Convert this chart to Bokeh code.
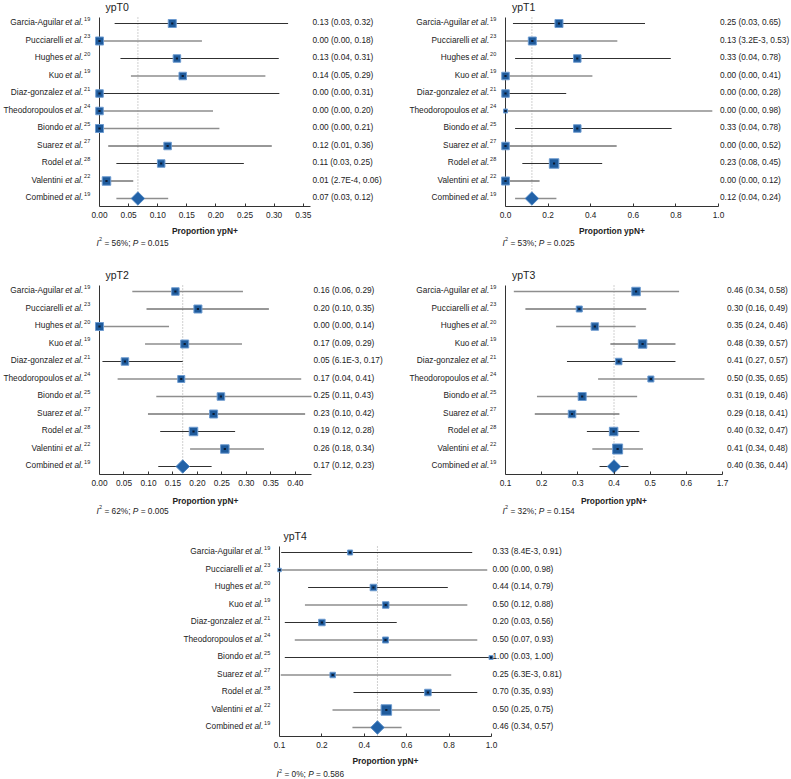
import math
from bokeh.plotting import figure
from bokeh.models import Range1d, FixedTicker, ColumnDataSource, Spacer, NumeralTickFormatter
from bokeh.layouts import row, column
from bokeh.core.properties import value
from bokeh.embed import file_html
from bokeh.resources import INLINE

FONT = "Liberation Sans"
TXT = "#222222"
FS = 8.3

STUDIES = ["Garcia-Aguilar", "Pucciarelli", "Hughes", "Kuo", "Diaz-gonzalez", "Theodoropoulos",
           "Biondo", "Suarez", "Rodel", "Valentini", "Combined"]
REFS = ["19", "23", "20", "19", "21", "24", "25", "27", "28", "22", "19"]

# ---------------- ypT0 ----------------
T0_EST = [0.125, 0.0, 0.133, 0.143, 0.0, 0.0, 0.0, 0.117, 0.106, 0.012, 0.066]
T0_LO = [0.026, 0.0, 0.036, 0.054, 0.0, 0.0, 0.0, 0.015, 0.029, 0.0003, 0.029]
T0_HI = [0.324, 0.176, 0.308, 0.285, 0.309, 0.195, 0.206, 0.296, 0.248, 0.058, 0.118]
T0_WT = [8, 8, 7.5, 7.5, 7.5, 7.5, 8, 7.5, 7.5, 8.5]
T0_LABELS = ["0.13 (0.03, 0.32)", "0.00 (0.00, 0.18)", "0.13 (0.04, 0.31)", "0.14 (0.05, 0.29)",
             "0.00 (0.00, 0.31)", "0.00 (0.00, 0.20)", "0.00 (0.00, 0.21)", "0.12 (0.01, 0.36)",
             "0.11 (0.03, 0.25)", "0.01 (2.7E-4, 0.06)", "0.07 (0.03, 0.12)"]
T0_I2, T0_P = "56%", "0.015"
T0_TICKS = [0.0, 0.05, 0.10, 0.15, 0.20, 0.25, 0.30, 0.35]

# ---------------- ypT1 ----------------
T1_EST = [0.251, 0.126, 0.337, 0.0, 0.0, 0.0, 0.337, 0.0, 0.228, 0.0, 0.124]
T1_LO = [0.035, 0.003, 0.045, 0.0, 0.0, 0.0, 0.045, 0.0, 0.079, 0.0, 0.045]
T1_HI = [0.655, 0.525, 0.776, 0.408, 0.285, 0.971, 0.780, 0.522, 0.454, 0.160, 0.239]
T1_WT = [8, 8, 7.5, 7.5, 7.5, 4, 7.5, 7.5, 9.5, 8]
T1_LABELS = ["0.25 (0.03, 0.65)", "0.13 (3.2E-3, 0.53)", "0.33 (0.04, 0.78)", "0.00 (0.00, 0.41)",
             "0.00 (0.00, 0.28)", "0.00 (0.00, 0.98)", "0.33 (0.04, 0.78)", "0.00 (0.00, 0.52)",
             "0.23 (0.08, 0.45)", "0.00 (0.00, 0.12)", "0.12 (0.04, 0.24)"]
T1_I2, T1_P = "53%", "0.025"
T1_TICKS = [0.0, 0.2, 0.4, 0.6, 0.8, 1.0]

# ---------------- ypT2 ----------------
T2_EST = [0.155, 0.201, 0.0, 0.174, 0.052, 0.167, 0.248, 0.233, 0.192, 0.256, 0.170]
T2_LO = [0.067, 0.096, 0.0, 0.093, 0.006, 0.037, 0.116, 0.099, 0.124, 0.185, 0.120]
T2_HI = [0.293, 0.346, 0.142, 0.291, 0.170, 0.412, 0.433, 0.420, 0.277, 0.336, 0.229]
T2_WT = [7.5, 8, 8, 8, 7.5, 7, 7.5, 8, 8.5, 8.5]
T2_LABELS = ["0.16 (0.06, 0.29)", "0.20 (0.10, 0.35)", "0.00 (0.00, 0.14)", "0.17 (0.09, 0.29)",
             "0.05 (6.1E-3, 0.17)", "0.17 (0.04, 0.41)", "0.25 (0.11, 0.43)", "0.23 (0.10, 0.42)",
             "0.19 (0.12, 0.28)", "0.26 (0.18, 0.34)", "0.17 (0.12, 0.23)"]
T2_I2, T2_P = "62%", "0.005"
T2_TICKS = [0.0, 0.05, 0.10, 0.15, 0.20, 0.25, 0.30, 0.35, 0.40]

# ---------------- ypT3 ----------------
T3_EST = [0.461, 0.304, 0.347, 0.479, 0.413, 0.502, 0.312, 0.284, 0.399, 0.410, 0.400]
T3_LO = [0.123, 0.155, 0.240, 0.390, 0.270, 0.356, 0.187, 0.181, 0.325, 0.340, 0.360]
T3_HI = [0.580, 0.489, 0.460, 0.570, 0.570, 0.650, 0.464, 0.415, 0.470, 0.480, 0.440]
T3_WT = [8.5, 6, 7.5, 8.5, 6.5, 6, 8, 7.5, 8.5, 10]
T3_LABELS = ["0.46 (0.34, 0.58)", "0.30 (0.16, 0.49)", "0.35 (0.24, 0.46)", "0.48 (0.39, 0.57)",
             "0.41 (0.27, 0.57)", "0.50 (0.35, 0.65)", "0.31 (0.19, 0.46)", "0.29 (0.18, 0.41)",
             "0.40 (0.32, 0.47)", "0.41 (0.34, 0.48)", "0.40 (0.36, 0.44)"]
T3_I2, T3_P = "32%", "0.154"
T3_TICKS = [0.1, 0.2, 0.3, 0.4, 0.5, 0.6, 0.7]
T3_TICK_LABELS = {0.7: "1.7"}

# ---------------- ypT4 ----------------
T4_EST = [0.333, 0.0, 0.443, 0.501, 0.200, 0.500, 0.998, 0.251, 0.700, 0.504, 0.462]
T4_LO = [0.008, 0.0, 0.135, 0.120, 0.025, 0.072, 0.025, 0.006, 0.349, 0.250, 0.344]
T4_HI = [0.909, 0.980, 0.794, 0.886, 0.553, 0.933, 1.000, 0.810, 0.933, 0.757, 0.576]
T4_WT = [5, 3.5, 6.5, 6.5, 6.5, 6, 4, 5.5, 6.5, 10.5]
T4_LABELS = ["0.33 (8.4E-3, 0.91)", "0.00 (0.00, 0.98)", "0.44 (0.14, 0.79)", "0.50 (0.12, 0.88)",
             "0.20 (0.03, 0.56)", "0.50 (0.07, 0.93)", "1.00 (0.03, 1.00)", "0.25 (6.3E-3, 0.81)",
             "0.70 (0.35, 0.93)", "0.50 (0.25, 0.75)", "0.46 (0.34, 0.57)"]
T4_I2, T4_P = "0%", "0.586"
T4_TICKS = [0.0, 0.2, 0.4, 0.6, 0.8, 1.0]
T4_TICK_LABELS = {0.0: "0.1"}

# ---------------- styling ----------------
TONE = {"d": ("#303030", 1.0), "g": ("#8e8e8e", 1.4)}
T0_TONE = "dgdgdggdddg"
T1_TONE = "dgdgdgddddg"
T2_TONE = "gdggdggddgd"
T3_TONE = "gdgddggddgd"
T4_TONE = "dgdgdgdgdgg"
SQ_FILL = "#1f5b9c"
SQ_LINE = "#6d9bd0"
DIA_FILL = "#2262a8"
DOT = "#0b1b33"

# Arial / Liberation Sans advance widths (em/1000), used to lay texts side by side
AW = {" ": 278, ".": 278, ",": 278, ";": 278, "-": 333, "(": 333, ")": 333, "%": 889,
      "=": 584, "+": 584,
      "a": 556, "b": 556, "c": 500, "d": 556, "e": 556, "f": 278, "g": 556, "h": 556,
      "i": 222, "j": 222, "k": 500, "l": 222, "m": 833, "n": 556, "o": 556, "p": 556,
      "q": 556, "r": 333, "s": 500, "t": 278, "u": 556, "v": 500, "w": 722, "x": 500,
      "y": 500, "z": 500,
      "A": 667, "B": 667, "C": 722, "D": 722, "E": 667, "G": 778, "H": 722, "I": 278,
      "K": 667, "N": 722, "P": 667, "R": 722, "S": 667, "T": 611, "V": 667}
AWB = {"P": 667, "r": 389, "o": 611, "p": 611, "t": 333, "i": 278, "n": 611, " ": 278,
       "y": 556, "N": 722, "+": 584}


def tw(s, fs, bold=False):
    table = AWB if bold else AW
    return sum(table.get(c, 556) for c in s) * fs / 1000.0


def build(title, est, lo, hi, wt, labels, i2, pv, tone, axis, ticks, fmt, overrides,
          L, DW, W, geo, gap, toff):
    frame_h, first, title_px, stats_h, xl_y, i2_y = geo
    a0, a1 = axis
    scale = DW / (a1 - a0)
    xr = Range1d(a0 - L / scale, a1 + (W - L - DW) / scale)
    B = 18
    step = 17.5
    y_top = -first / step
    y_bot = 10 + (frame_h - first - 10 * step) / step
    yr = Range1d(y_bot, y_top)

    p = figure(width=W, height=frame_h + B, x_range=xr, y_range=yr, output_backend="svg",
               toolbar_location=None, min_border_left=0, min_border_right=0,
               min_border_top=0, min_border_bottom=B, y_axis_location=None,
               outline_line_color=None)
    p.xgrid.visible = False
    p.ygrid.visible = False

    ax = p.xaxis[0]
    ax.bounds = (a0, a1)
    ax.ticker = FixedTicker(ticks=ticks)
    ax.formatter = NumeralTickFormatter(format=fmt)
    if overrides:
        ov = {}
        for k, v in overrides.items():
            ov[k] = v
            ov[str(k)] = v
        ax.major_label_overrides = ov
    ax.axis_line_color = "#333333"
    ax.major_tick_line_color = "#333333"
    ax.major_tick_in = 3
    ax.major_tick_out = 0
    ax.minor_tick_line_color = None
    ax.major_label_text_font = FONT
    ax.major_label_text_font_size = f"{FS}px"
    ax.major_label_text_color = TXT
    ax.major_label_standoff = 5

    rows = list(range(len(STUDIES)))
    colors = [TONE[t][0] for t in tone]
    widths = [TONE[t][1] for t in tone]
    etal_w = tw("et al.", FS)
    etal_x = -16.3 - etal_w
    name_x = [etal_x - 1.8 - tw(n, FS) for n in STUDIES]
    src = ColumnDataSource(dict(y=rows, name=STUDIES, ref=REFS, val=labels, lo=lo, hi=hi,
                                color=colors, lw=widths, nx=name_x))

    axis_top = -6 / step
    # dotted reference line at the combined estimate
    p.segment(x0=[est[-1]], y0=[axis_top], x1=[est[-1]], y1=[y_bot], line_color="#a0a0a0",
              line_width=1, line_dash="1 2")
    # vertical axis line
    p.segment(x0=[a0], y0=[axis_top], x1=[a0], y1=[y_bot], line_color="#333333", line_width=1)

    p.segment(x0="lo", y0="y", x1="hi", y1="y", source=src, line_color="color", line_width="lw")

    sq = ColumnDataSource(dict(x=est[:-1], y=rows[:-1], size=wt))
    p.scatter(x="x", y="y", size="size", marker="square", source=sq,
              fill_color=SQ_FILL, line_color=SQ_LINE, line_width=1)
    p.scatter(x="x", y="y", size=2.2, marker="square", source=sq, fill_color=DOT, line_color=None)
    p.scatter(x=[est[-1]], y=[rows[-1]], size=9.5, marker="square", angle=math.pi / 4,
              fill_color=DIA_FILL, line_color="#4f86c2", line_width=1)

    # panel title
    p.text(x=[a0], y=[-(first - title_px) / step], text=[title], x_offset=toff,
           text_align="left", text_baseline="middle", text_font=value(FONT),
           text_font_size="10.5px", text_color=TXT)

    common = dict(source=src, text_font=value(FONT), text_color=TXT, text_baseline="middle",
                  text_align="left")
    p.text(x=a0, y="y", text="name", x_offset="nx", y_offset=-1.5,
           text_font_size=f"{FS}px", **common)
    p.text(x=a0, y="y", text=value("et al."), x_offset=etal_x, y_offset=-1.5,
           text_font_size=f"{FS}px", text_font_style="italic", **common)
    p.text(x=a0, y="y", text="ref", x_offset=-15.4, y_offset=-4.8,
           text_font_size="5.5px", **common)
    p.text(x=a1, y="y", text="val", x_offset=gap, y_offset=-1.5,
           text_font_size=f"{FS}px", **common)

    # strip below the axis: axis title and heterogeneity statistics
    s = figure(width=W, height=stats_h, x_range=xr, y_range=Range1d(stats_h, 0),
               output_backend="svg", toolbar_location=None, min_border=0,
               x_axis_location=None, y_axis_location=None, outline_line_color=None)
    s.xgrid.visible = False
    s.ygrid.visible = False
    sc = dict(text_font=value(FONT), text_color=TXT, text_baseline="middle", text_align="left")
    xlab = "Proportion ypN+"
    s.text(x=[(a0 + a1) / 2], y=[xl_y], text=[xlab], x_offset=-tw(xlab, 8.4, bold=True) / 2,
           text_font_size="8.4px", text_font_style="bold", **sc)
    x = -3.0
    s.text(x=[a0], y=[i2_y], text=["I"], x_offset=x, text_font_size=f"{FS}px",
           text_font_style="italic", **sc)
    x += tw("I", FS) + 0.3
    s.text(x=[a0], y=[i2_y], text=["2"], x_offset=x, y_offset=-3.5, text_font_size="5.5px", **sc)
    x += tw("2", 5.5) + tw(" ", FS)
    part1 = "= " + i2 + ";"
    s.text(x=[a0], y=[i2_y], text=[part1], x_offset=x, text_font_size=f"{FS}px", **sc)
    x += tw(part1, FS) + tw(" ", FS)
    s.text(x=[a0], y=[i2_y], text=["P"], x_offset=x, text_font_size=f"{FS}px",
           text_font_style="italic", **sc)
    x += tw("P", FS) + tw(" ", FS)
    s.text(x=[a0], y=[i2_y], text=["= " + pv], x_offset=x, text_font_size=f"{FS}px", **sc)

    return column(p, s)


# geometry per row: frame height, first row offset, title offset, strip height, xlabel y, I2 y
GEO_TOP = (206, 23, 6, 38, 6.5, 18)
GEO_MID = (212, 29, 12, 33, 8, 18)
GEO_BOT = (211, 27, 10, 25, 6.5, 19.5)

c0 = build("ypT0", T0_EST, T0_LO, T0_HI, T0_WT, T0_LABELS, T0_I2, T0_P, T0_TONE,
           (0.0, 0.3625), T0_TICKS, "0.00", None, 99, 211, 400, GEO_TOP, 2.0, 6)
c1 = build("ypT1", T1_EST, T1_LO, T1_HI, T1_WT, T1_LABELS, T1_I2, T1_P, T1_TONE,
           (0.0, 1.0), T1_TICKS, "0.0", None, 105, 213, 391, GEO_TOP, 1.5, 6.5)
c2 = build("ypT2", T2_EST, T2_LO, T2_HI, T2_WT, T2_LABELS, T2_I2, T2_P, T2_TONE,
           (0.0, 0.433), T2_TICKS, "0.00", None, 99, 212, 400, GEO_MID, 2.0, 6)
c3 = build("ypT3", T3_EST, T3_LO, T3_HI, T3_WT, T3_LABELS, T3_I2, T3_P, T3_TONE,
           (0.1, 0.7), T3_TICKS, "0.0", T3_TICK_LABELS, 105, 217, 391, GEO_MID, 4.5, 6.5)
c4 = build("ypT4", T4_EST, T4_LO, T4_HI, T4_WT, T4_LABELS, T4_I2, T4_P, T4_TONE,
           (0.0, 1.0), T4_TICKS, "0.0", T4_TICK_LABELS, 98, 212, 400, GEO_BOT, 1.0, 4)

layout = column(row(c0, c1), row(c2, c3), row(Spacer(width=181, height=10), c4))

open("out.html", "w").write(file_html(layout, INLINE))
